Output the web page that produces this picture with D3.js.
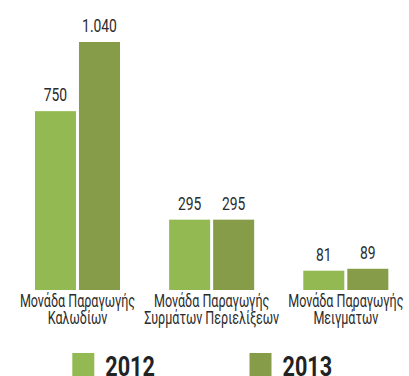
<!DOCTYPE html>
<html>
<head>
<meta charset="utf-8">
<script src="https://cdn.jsdelivr.net/npm/d3@7"></script>
<style>
  html, body { margin: 0; padding: 0; background: #fff; }
  svg { display: block; }
  text { font-family: Roboto, "Noto Sans", sans-serif; }
</style>
</head>
<body>
<svg id="chart" width="409" height="376"></svg>
<script>
// Production per unit, two years side by side
const categories = [
  ["Μονάδα Παραγωγής", "Καλωδίων"],
  ["Μονάδα Παραγωγής", "Συρμάτων Περιελίξεων"],
  ["Μονάδα Παραγωγής", "Μειγμάτων"]
];
const years = ["2012", "2013"];
const values2012 = [750, 295, 81];
const values2013 = [1040, 295, 89];
const valueLabels2012 = ["750", "295", "81"];
const valueLabels2013 = ["1.040", "295", "89"];
const colors = ["#93b953", "#869c48"];

const svg = d3.select("#chart");
const baseline = 290;

const x0 = d3.scaleBand()
  .domain(d3.range(categories.length))
  .range([10.4, 412.9])
  .paddingInner(0.366)
  .paddingOuter(0.183);

const x1 = d3.scaleBand()
  .domain(years)
  .range([0, x0.bandwidth()])
  .paddingInner(0.068);

const y = d3.scaleLinear()
  .domain([0, 1040])
  .range([baseline, 42]);

const rows = categories.map((c, i) => ({
  index: i,
  lines: c,
  bars: [
    { year: years[0], value: values2012[i], label: valueLabels2012[i] },
    { year: years[1], value: values2013[i], label: valueLabels2013[i] }
  ]
}));

const groups = svg.selectAll("g.group")
  .data(rows)
  .join("g")
  .attr("class", "group")
  .attr("transform", d => `translate(${x0(d.index)},0)`);

groups.selectAll("rect")
  .data(d => d.bars)
  .join("rect")
  .attr("x", d => x1(d.year))
  .attr("y", d => y(d.value))
  .attr("width", x1.bandwidth())
  .attr("height", d => baseline - y(d.value))
  .attr("fill", (d, i) => colors[i]);

// value labels, squeezed horizontally for a condensed face
groups.selectAll("text.value")
  .data(d => d.bars)
  .join("text")
  .attr("class", "value")
  .attr("transform", d => `translate(${x1(d.year) + x1.bandwidth() / 2},${y(d.value) - 10}) scale(0.73,1)`)
  .attr("text-anchor", "middle")
  .attr("font-size", 19)
  .attr("fill", "#2b2b2b")
  .text(d => d.label);

// category names under each group, two lines
groups.selectAll("text.cat")
  .data(d => d.lines)
  .join("text")
  .attr("class", "cat")
  .attr("transform", (d, i) => `translate(${x0.bandwidth() / 2},${306.5 + i * 17}) scale(0.66,1)`)
  .attr("text-anchor", "middle")
  .attr("font-size", 19)
  .attr("fill", "#2b2b2b")
  .text(d => d);

// legend
const legendX = [72.3, 249.5];
const legend = svg.selectAll("g.legend")
  .data(years)
  .join("g")
  .attr("class", "legend")
  .attr("transform", (d, i) => `translate(${legendX[i]},353)`);

legend.append("rect")
  .attr("width", 22)
  .attr("height", 23)
  .attr("fill", (d, i) => colors[i]);

legend.append("text")
  .attr("transform", "translate(33,22.5) scale(0.8,1)")
  .attr("font-size", 27)
  .attr("font-weight", "bold")
  .attr("fill", "#222")
  .text(d => d);
</script>
</body>
</html>
